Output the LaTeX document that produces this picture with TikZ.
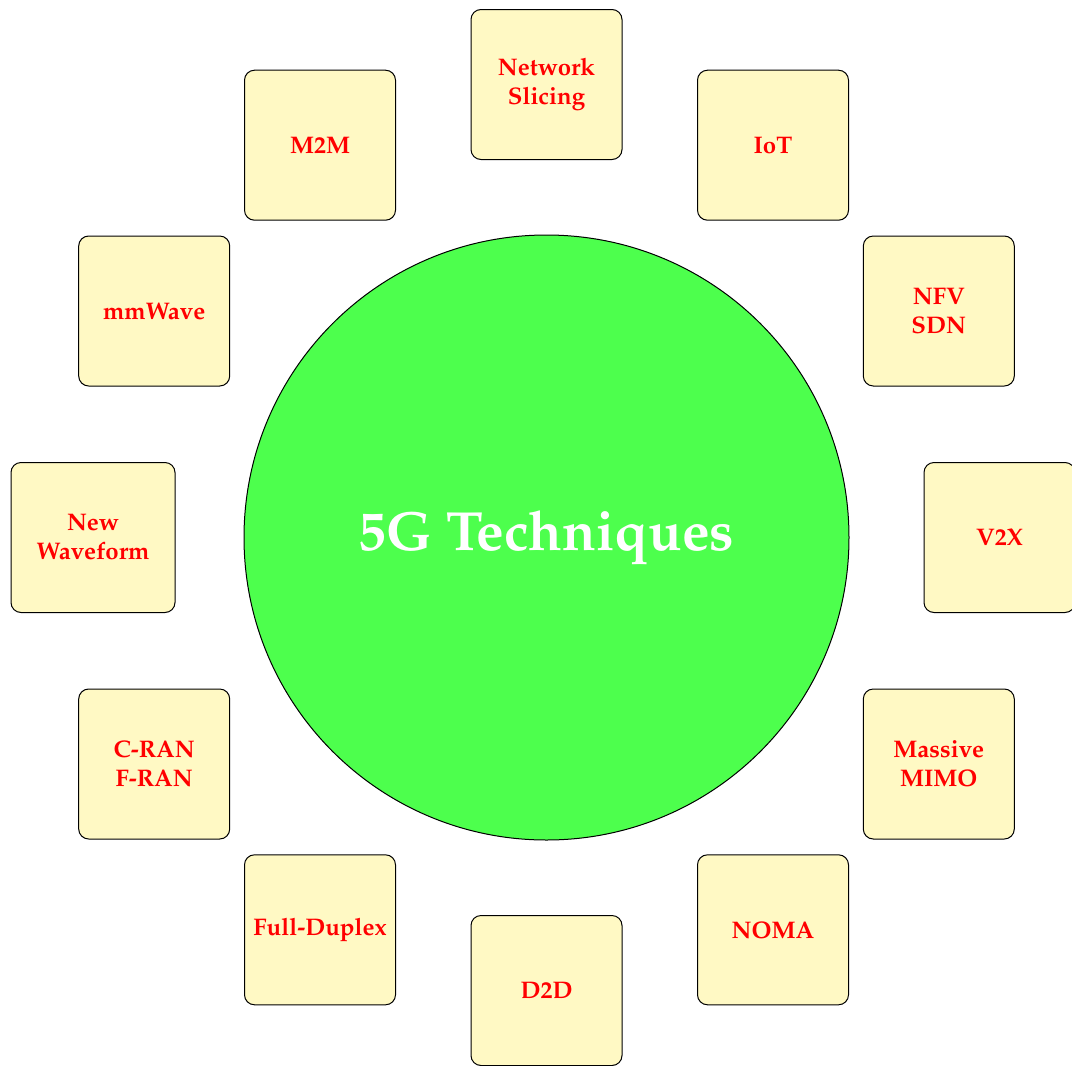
\documentclass[tikz,border=0pt]{standalone}
\usepackage[T1]{fontenc}
\usepackage{mathpazo}
\definecolor{boxfill}{RGB}{255,249,196}
\definecolor{hubfill}{RGB}{77,255,77}
\tikzset{
  techbox/.style={draw=black, line width=0.5pt, fill=boxfill, rounded corners=5pt,
    minimum width=75.5pt, minimum height=75pt, align=center, text=red,
    font=\fontsize{12}{14.5}\selectfont\bfseries, inner sep=2pt},
  hub/.style={circle, draw=black, line width=0.5pt, fill=hubfill, minimum size=302.5pt,
    text=white, font=\fontsize{27.6}{33}\selectfont\bfseries, inner sep=0pt}
}
\begin{document}
\begin{tikzpicture}[x=0.5pt, y=-0.5pt]
\useasboundingbox (0,0) rectangle (1072,1066);
\node[hub] (c) at (546.5,537.5) {5G Techniques};
\node[techbox] (ns) at (546.5,84.5) {Network\\Slicing};
\node[techbox] (iot) at (773,145.2) {IoT};
\node[techbox] (nfv) at (938.8,311) {NFV\\SDN};
\node[techbox] (v2x) at (999.5,537.5) {V2X};
\node[techbox] (mimo) at (938.8,764) {Massive\\MIMO};
\node[techbox] (noma) at (773,929.8) {NOMA};
\node[techbox] (d2d) at (546.5,990.5) {D2D};
\node[techbox] (fd) at (320,929.8) {Full-Duplex};
\node[techbox] (cran) at (154.2,764) {C-RAN\\F-RAN};
\node[techbox, minimum width=82pt] (nw) at (93,537.5) {New\\Waveform};
\node[techbox] (mmw) at (154.2,311) {mmWave};
\node[techbox] (m2m) at (320,145.2) {M2M};
\end{tikzpicture}
\end{document}
